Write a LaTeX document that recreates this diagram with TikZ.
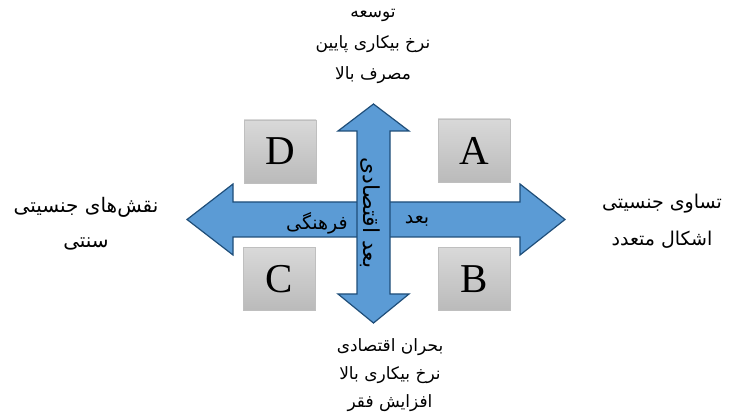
\documentclass[tikz,border=0pt]{standalone}
\usepackage{fontspec}
\setmainfont{Liberation Serif}
\newfontfamily\arabicfont[Script=Arabic]{DejaVu Sans}
\TeXXeTstate=1
\definecolor{arrowblue}{HTML}{5B9BD5}
\definecolor{arrowedge}{HTML}{1F4E79}
\tikzset{
  bigarrow/.style={fill=arrowblue, draw=arrowedge, line width=1.2pt, line join=miter},
  letterbox/.style={draw=black!25, top color=black!15, bottom color=black!27,
    minimum width=72pt, minimum height=63pt, inner sep=0pt,
    font=\fontsize{41}{41}\selectfont},
  farsi/.style={align=center, font=\arabicfont\fontsize{17}{31}\selectfont, inner sep=0pt},
  armlabel/.style={font=\arabicfont\fontsize{19}{21}\selectfont, inner sep=0pt}
}
\begin{document}
\begin{tikzpicture}[x=1pt,y=-1pt]
  \useasboundingbox (0,0) rectangle (732,417);
  % horizontal arrow (cultural)
  \draw[bigarrow] (187,219.5) -- (233,184) -- (233,202) -- (520,202) -- (520,184)
    -- (565,219.5) -- (520,255) -- (520,237) -- (233,237) -- (233,255) -- cycle;
  % vertical arrow (economic)
  \draw[bigarrow] (373.5,104) -- (409,131) -- (390,131) -- (390,294) -- (409,294)
    -- (373.5,323) -- (338,294) -- (357,294) -- (357,131) -- (338,131) -- cycle;
  % quadrants
  \node[letterbox] (A) at (474,150.5) {A};
  \node[letterbox] (B) at (474,279) {B};
  \node[letterbox] (C) at (279,279) {C};
  \node[letterbox] (D) at (280,151.5) {D};
  % labels on the arms
  \node[armlabel] (right) at (417,221) {\beginR بعد\endR};
  \node[armlabel] (left) at (317,223) {\beginR فرهنگی\endR};
  \node[armlabel, rotate=-90, font=\arabicfont\fontsize{22}{24}\selectfont]
    (mid) at (370,213) {\beginR بعد اقتصادی\endR};
  % ends
  \node[farsi] (top) at (373,46)
    {\beginR توسعه\endR\\\beginR نرخ بیکاری پایین\endR\\\beginR مصرف بالا\endR};
  \node[farsi, font=\arabicfont\fontsize{17}{28}\selectfont] (bottom) at (390,375)
    {\beginR بحران اقتصادی\endR\\\beginR نرخ بیکاری بالا\endR\\\beginR افزایش فقر\endR};
  \node[farsi, font=\arabicfont\fontsize{20}{35}\selectfont] (west) at (86,224)
    {\beginR نقش‌های جنسیتی\endR\\\beginR سنتی\endR};
  \node[farsi, font=\arabicfont\fontsize{19}{37}\selectfont] (east) at (662,221)
    {\beginR تساوی جنسیتی\endR\\\beginR اشکال متعدد\endR};
\end{tikzpicture}
\end{document}
